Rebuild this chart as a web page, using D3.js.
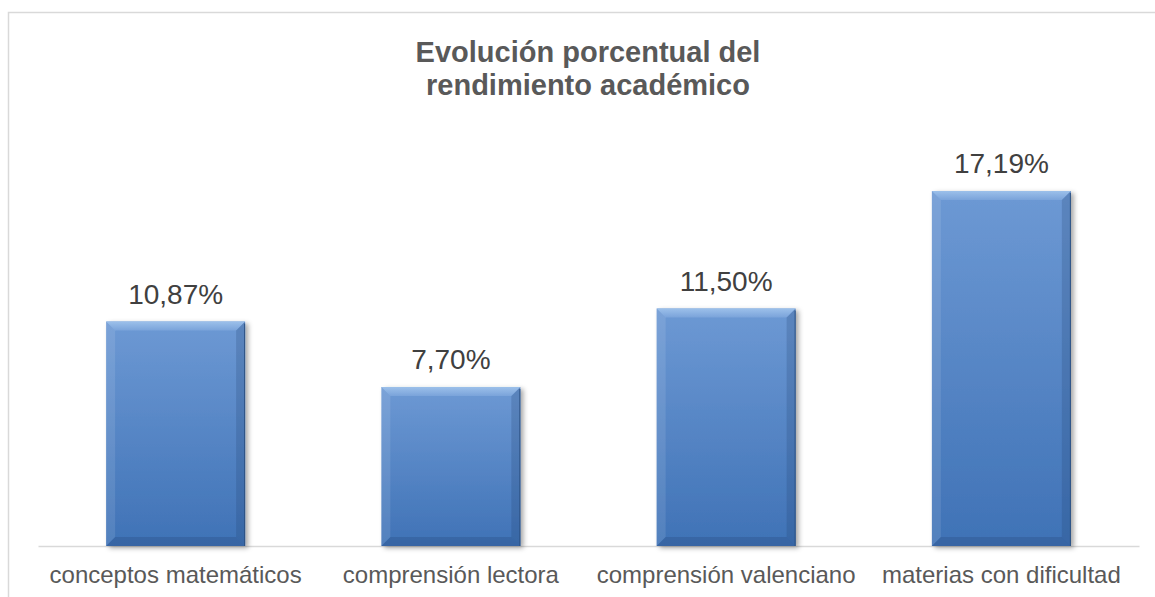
<!DOCTYPE html>
<html>
<head>
<meta charset="utf-8">
<script src="https://cdn.jsdelivr.net/npm/d3@7"></script>
<style>
  body { margin: 0; background: #fff; }
  svg { display: block; }
  text { font-family: "Liberation Sans", Arial, sans-serif; }
</style>
</head>
<body>
<svg id="chart" width="1155" height="597"></svg>
<script>
// data
const categories = ["conceptos matemáticos", "comprensión lectora", "comprensión valenciano", "materias con dificultad"];
const values = [10.87, 7.70, 11.50, 17.19];
const valueLabels = ["10,87%", "7,70%", "11,50%", "17,19%"];
const titleLines = ["Evolución porcentual del", "rendimiento académico"];

const width = 1155, height = 597;
const svg = d3.select("#chart");

// chart border (left + top visible)
svg.append("rect")
  .attr("x", 8.5).attr("y", 12.5)
  .attr("width", 1200).attr("height", 700)
  .attr("fill", "none")
  .attr("stroke", "#d9d9d9")
  .attr("stroke-width", 1.5);

const defs = svg.append("defs");
const grad = defs.append("linearGradient").attr("id", "barGrad")
  .attr("x1", 0).attr("y1", 0).attr("x2", 0).attr("y2", 1);
grad.append("stop").attr("offset", "0%").attr("stop-color", "#6d99d4");
grad.append("stop").attr("offset", "100%").attr("stop-color", "#3f72b6");

const topGrad = defs.append("linearGradient").attr("id", "topGrad")
  .attr("x1", 0).attr("y1", 0).attr("x2", 0).attr("y2", 1);
topGrad.append("stop").attr("offset", "0%").attr("stop-color", "#9cc0ea");
topGrad.append("stop").attr("offset", "100%").attr("stop-color", "#7aa3da");

const shadow = defs.append("filter").attr("id", "shadow")
  .attr("x", "-10%").attr("y", "-10%").attr("width", "130%").attr("height", "130%");
shadow.append("feDropShadow")
  .attr("dx", 3).attr("dy", 2).attr("stdDeviation", 2.5)
  .attr("flood-color", "#000").attr("flood-opacity", 0.35);

// scales
const x = d3.scaleBand()
  .domain(categories)
  .range([38, 1139])
  .paddingInner(0.495)
  .paddingOuter(0.2475);

const y = d3.scaleLinear()
  .domain([0, 20])
  .range([546, 133]);

// title
svg.append("text")
  .attr("x", 588).attr("y", 62)
  .attr("text-anchor", "middle")
  .attr("font-size", 29).attr("font-weight", "bold")
  .attr("fill", "#595959")
  .selectAll("tspan")
  .data(titleLines)
  .join("tspan")
  .attr("x", 588)
  .attr("dy", (d, i) => i === 0 ? 0 : 33)
  .text(d => d);

// axis
const xAxis = d3.axisBottom(x).tickSize(0).tickPadding(0);
const axisG = svg.append("g")
  .attr("transform", `translate(0,${y(0)})`)
  .call(xAxis);
axisG.select(".domain").attr("stroke", "#d9d9d9").attr("stroke-width", 1.5);
axisG.selectAll(".tick text")
  .attr("dy", 0).attr("y", 37)
  .attr("font-size", 24)
  .attr("font-family", "Liberation Sans, Arial, sans-serif")
  .attr("fill", "#595959");

// bars
const data = categories.map((c, i) => ({ c, v: values[i], label: valueLabels[i] }));
const b = 9;

const bars = svg.append("g").selectAll("g.bar")
  .data(data)
  .join("g")
  .attr("class", "bar");

bars.append("rect")
  .attr("x", d => x(d.c))
  .attr("y", d => y(d.v))
  .attr("width", x.bandwidth())
  .attr("height", d => y(0) - y(d.v))
  .attr("fill", "url(#barGrad)")
  .attr("filter", "url(#shadow)");

// bevel: top
bars.append("polygon")
  .attr("points", d => {
    const x0 = x(d.c), x1 = x0 + x.bandwidth(), y0 = y(d.v);
    return [[x0, y0], [x1, y0], [x1 - b, y0 + b], [x0 + b, y0 + b]].join(" ");
  })
  .attr("fill", "url(#topGrad)");

// bevel: left
bars.append("polygon")
  .attr("points", d => {
    const x0 = x(d.c), y0 = y(d.v), y1 = y(0);
    return [[x0, y0], [x0 + b, y0 + b], [x0 + b, y1 - b], [x0, y1]].join(" ");
  })
  .attr("fill", "#ffffff").attr("opacity", 0.1);

// bevel: right
bars.append("polygon")
  .attr("points", d => {
    const x1 = x(d.c) + x.bandwidth(), y0 = y(d.v), y1 = y(0);
    return [[x1, y0], [x1 - b, y0 + b], [x1 - b, y1 - b], [x1, y1]].join(" ");
  })
  .attr("fill", "#1f3f6e").attr("opacity", 0.22);

// bevel: bottom
bars.append("polygon")
  .attr("points", d => {
    const x0 = x(d.c), x1 = x0 + x.bandwidth(), y1 = y(0);
    return [[x0, y1], [x1, y1], [x1 - b, y1 - b], [x0 + b, y1 - b]].join(" ");
  })
  .attr("fill", "#1f3f6e").attr("opacity", 0.25);

// dark outline on right edge
bars.append("line")
  .attr("x1", d => x(d.c) + x.bandwidth() - 0.5)
  .attr("x2", d => x(d.c) + x.bandwidth() - 0.5)
  .attr("y1", d => y(d.v) + 2)
  .attr("y2", y(0))
  .attr("stroke", "#2c5182").attr("stroke-width", 1);

// value labels
svg.append("g").selectAll("text")
  .data(data)
  .join("text")
  .attr("x", d => x(d.c) + x.bandwidth() / 2)
  .attr("y", d => y(d.v) - 18)
  .attr("text-anchor", "middle")
  .attr("font-size", 28)
  .attr("fill", "#404040")
  .text(d => d.label);
</script>
</body>
</html>
